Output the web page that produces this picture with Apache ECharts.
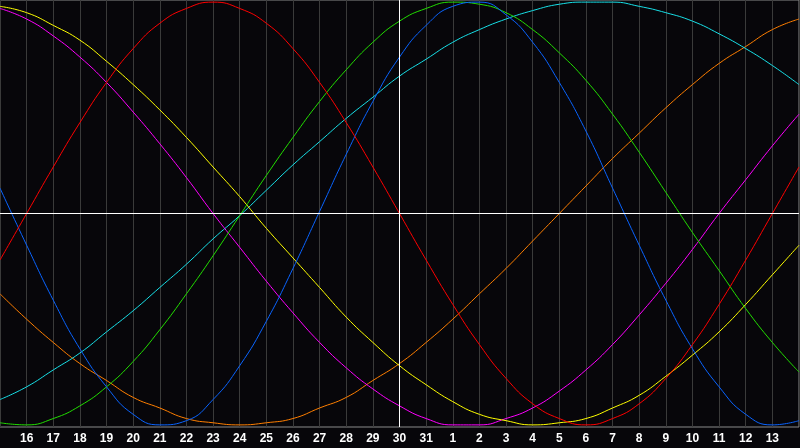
<!DOCTYPE html>
<html>
<head>
<meta charset="utf-8">
<script src="https://cdn.jsdelivr.net/npm/echarts@6/dist/echarts.min.js"></script>
<style>html,body{margin:0;padding:0;background:#07060a;}#c{width:800px;height:448px;}</style>
</head>
<body>
<div id="c"></div>
<script>
const days = ['15','16','17','18','19','20','21','22','23','24','25','26','27','28','29','30','31','1','2','3','4','5','6','7','8','9','10','11','12','13','14'];
const red = [-0.22,0,0.22,0.43,0.62,0.78,0.90,0.97,1,0.97,0.90,0.78,0.62,0.43,0.22,0,-0.22,-0.43,-0.62,-0.78,-0.90,-0.97,-1,-0.97,-0.90,-0.78,-0.62,-0.43,-0.22,0,0.22];
const blue = [0.12,-0.15,-0.41,-0.64,-0.82,-0.95,-1.00,-0.98,-0.88,-0.72,-0.51,-0.26,0.01,0.28,0.53,0.74,0.89,0.98,1.00,0.94,0.81,0.62,0.39,0.12,-0.15,-0.41,-0.64,-0.82,-0.95,-1.00,-0.98];
const green = [-0.99,-1.00,-0.97,-0.91,-0.82,-0.70,-0.55,-0.38,-0.20,-0.01,0.18,0.36,0.53,0.68,0.81,0.91,0.97,1.00,0.99,0.95,0.87,0.76,0.63,0.47,0.29,0.10,-0.09,-0.27,-0.45,-0.61,-0.75];
const cyan = [-0.88,-0.82,-0.74,-0.66,-0.56,-0.46,-0.35,-0.24,-0.12,-0.01,0.11,0.23,0.34,0.45,0.55,0.65,0.73,0.81,0.87,0.92,0.96,0.99,1.00,1.00,0.98,0.95,0.91,0.85,0.78,0.70,0.61];
const yellow = [0.98,0.95,0.89,0.82,0.72,0.61,0.49,0.36,0.22,0.08,-0.07,-0.21,-0.35,-0.49,-0.61,-0.72,-0.81,-0.89,-0.95,-0.98,-1.00,-0.99,-0.97,-0.92,-0.86,-0.77,-0.67,-0.56,-0.43,-0.29,-0.15];
const magenta = [0.97,0.92,0.84,0.74,0.62,0.48,0.33,0.17,0.00,-0.16,-0.32,-0.47,-0.61,-0.73,-0.83,-0.91,-0.97,-1.00,-1.00,-0.97,-0.92,-0.84,-0.74,-0.62,-0.48,-0.33,-0.17,0.00,0.16,0.32,0.47];
const orange = [-0.38,-0.50,-0.61,-0.71,-0.79,-0.87,-0.92,-0.97,-0.99,-1.00,-0.99,-0.97,-0.92,-0.87,-0.79,-0.71,-0.61,-0.50,-0.38,-0.26,-0.13,0,0.13,0.26,0.38,0.50,0.61,0.71,0.79,0.87,0.92];
const centerDay = '30';

const seriesDefs = [
  {name:'orange', data:orange, color:'#ff7f00'},
  {name:'cyan', data:cyan, color:'#18e0e8'},
  {name:'magenta', data:magenta, color:'#ff00ff'},
  {name:'yellow', data:yellow, color:'#ffff00'},
  {name:'green', data:green, color:'#22dd00'},
  {name:'blue', data:blue, color:'#0a64ff'},
  {name:'red', data:red, color:'#ff0000'}
];

const chart = echarts.init(document.getElementById('c'), null, {renderer:'canvas'});
const series = seriesDefs.map((s, k) => ({
  name: s.name, type:'line', data:s.data, smooth:true, symbol:'none',
  lineStyle:{color:s.color, width:1}, itemStyle:{color:s.color},
  z: 3,
  markLine: k === 0 ? {
    silent:true, symbol:'none', label:{show:false},
    lineStyle:{color:'#ffffff', width:1, type:'solid'},
    data:[{xAxis:centerDay},{yAxis:0}]
  } : undefined
}));
chart.setOption({
  backgroundColor:'#07060a',
  animation:false,
  grid:{left:0, right:1, top:0, bottom:21, show:true, borderColor:'#8a8a8a', borderWidth:1, backgroundColor:'transparent'},
  xAxis:{
    type:'category', data:days, boundaryGap:false,
    axisLine:{show:false}, axisTick:{show:false},
    splitLine:{show:true, interval:0, lineStyle:{color:'#3a3a3a', width:1}},
    axisLabel:{interval:(i)=> i>0 && i<days.length-1, color:'#ffffff', fontWeight:'bold', fontSize:12, fontFamily:'Liberation Sans', margin:6}
  },
  yAxis:{
    type:'value', min:-1.01, max:1.01,
    axisLine:{show:false}, axisTick:{show:false}, axisLabel:{show:false}, splitLine:{show:false}
  },
  series: series
});
</script>
</body>
</html>
